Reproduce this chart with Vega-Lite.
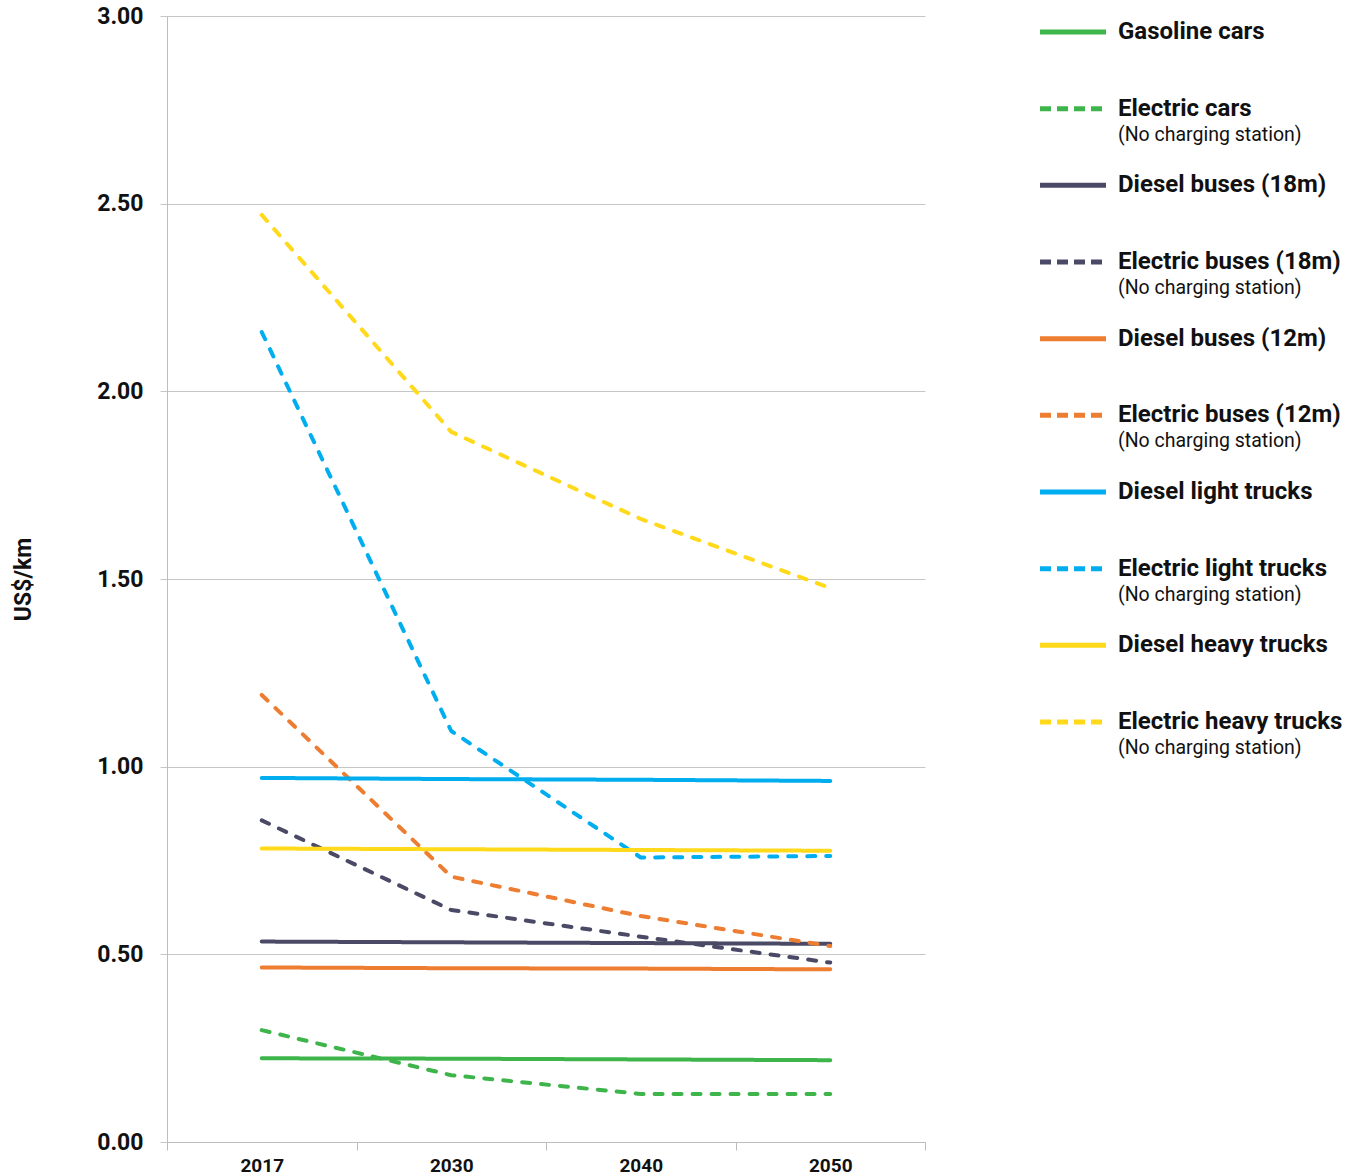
{
  "$schema": "https://vega.github.io/schema/vega-lite/v6.json",
  "padding": {"top": 5, "left": 12, "right": 0, "bottom": 0},
  "config": {
    "font": "Roboto",
    "view": {"stroke": null}
  },
  "datasets": {
    "costs": [
      {"series": "Gasoline cars", "power": "Diesel", "year": "2017", "cost": 0.223},
      {"series": "Gasoline cars", "power": "Diesel", "year": "2030", "cost": 0.222},
      {"series": "Gasoline cars", "power": "Diesel", "year": "2040", "cost": 0.220},
      {"series": "Gasoline cars", "power": "Diesel", "year": "2050", "cost": 0.218},
      {"series": "Electric cars", "power": "Electric", "year": "2017", "cost": 0.298},
      {"series": "Electric cars", "power": "Electric", "year": "2030", "cost": 0.178},
      {"series": "Electric cars", "power": "Electric", "year": "2040", "cost": 0.128},
      {"series": "Electric cars", "power": "Electric", "year": "2050", "cost": 0.128},
      {"series": "Diesel buses (18m)", "power": "Diesel", "year": "2017", "cost": 0.534},
      {"series": "Diesel buses (18m)", "power": "Diesel", "year": "2030", "cost": 0.532},
      {"series": "Diesel buses (18m)", "power": "Diesel", "year": "2040", "cost": 0.530},
      {"series": "Diesel buses (18m)", "power": "Diesel", "year": "2050", "cost": 0.528},
      {"series": "Electric buses (18m)", "power": "Electric", "year": "2017", "cost": 0.857},
      {"series": "Electric buses (18m)", "power": "Electric", "year": "2030", "cost": 0.618},
      {"series": "Electric buses (18m)", "power": "Electric", "year": "2040", "cost": 0.547},
      {"series": "Electric buses (18m)", "power": "Electric", "year": "2050", "cost": 0.478},
      {"series": "Diesel buses (12m)", "power": "Diesel", "year": "2017", "cost": 0.465},
      {"series": "Diesel buses (12m)", "power": "Diesel", "year": "2030", "cost": 0.463},
      {"series": "Diesel buses (12m)", "power": "Diesel", "year": "2040", "cost": 0.462},
      {"series": "Diesel buses (12m)", "power": "Diesel", "year": "2050", "cost": 0.460},
      {"series": "Electric buses (12m)", "power": "Electric", "year": "2017", "cost": 1.191},
      {"series": "Electric buses (12m)", "power": "Electric", "year": "2030", "cost": 0.707},
      {"series": "Electric buses (12m)", "power": "Electric", "year": "2040", "cost": 0.602},
      {"series": "Electric buses (12m)", "power": "Electric", "year": "2050", "cost": 0.522},
      {"series": "Diesel light trucks", "power": "Diesel", "year": "2017", "cost": 0.970},
      {"series": "Diesel light trucks", "power": "Diesel", "year": "2030", "cost": 0.967},
      {"series": "Diesel light trucks", "power": "Diesel", "year": "2040", "cost": 0.965},
      {"series": "Diesel light trucks", "power": "Diesel", "year": "2050", "cost": 0.962},
      {"series": "Electric light trucks", "power": "Electric", "year": "2017", "cost": 2.158},
      {"series": "Electric light trucks", "power": "Electric", "year": "2030", "cost": 1.095},
      {"series": "Electric light trucks", "power": "Electric", "year": "2040", "cost": 0.758},
      {"series": "Electric light trucks", "power": "Electric", "year": "2050", "cost": 0.762},
      {"series": "Diesel heavy trucks", "power": "Diesel", "year": "2017", "cost": 0.782},
      {"series": "Diesel heavy trucks", "power": "Diesel", "year": "2030", "cost": 0.780},
      {"series": "Diesel heavy trucks", "power": "Diesel", "year": "2040", "cost": 0.778},
      {"series": "Diesel heavy trucks", "power": "Diesel", "year": "2050", "cost": 0.776},
      {"series": "Electric heavy trucks", "power": "Electric", "year": "2017", "cost": 2.470},
      {"series": "Electric heavy trucks", "power": "Electric", "year": "2030", "cost": 1.892},
      {"series": "Electric heavy trucks", "power": "Electric", "year": "2040", "cost": 1.660},
      {"series": "Electric heavy trucks", "power": "Electric", "year": "2050", "cost": 1.476}
    ],
    "legendItems": [
      {"series": "Gasoline cars", "kind": "Diesel", "note": ""},
      {"series": "Electric cars", "kind": "Electric", "note": "(No charging station)"},
      {"series": "Diesel buses (18m)", "kind": "Diesel", "note": ""},
      {"series": "Electric buses (18m)", "kind": "Electric", "note": "(No charging station)"},
      {"series": "Diesel buses (12m)", "kind": "Diesel", "note": ""},
      {"series": "Electric buses (12m)", "kind": "Electric", "note": "(No charging station)"},
      {"series": "Diesel light trucks", "kind": "Diesel", "note": ""},
      {"series": "Electric light trucks", "kind": "Electric", "note": "(No charging station)"},
      {"series": "Diesel heavy trucks", "kind": "Diesel", "note": ""},
      {"series": "Electric heavy trucks", "kind": "Electric", "note": "(No charging station)"}
    ]
  },
  "resolve": {"scale": {"strokeDash": "independent", "color": "independent"}},
  "spacing": 111,
  "hconcat": [
    {
      "width": 758,
      "height": 1126,
      "data": {"name": "costs"},
      "mark": {"type": "line", "strokeWidth": 4, "strokeCap": "round", "strokeJoin": "round"},
      "encoding": {
        "x": {
          "field": "year", "type": "ordinal",
          "scale": {"type": "band", "paddingInner": 0, "paddingOuter": 0},
          "axis": {
            "title": null, "labelAngle": 0, "domainColor": "#bdbdbd", "tickColor": "#bdbdbd",
            "tickBand": "extent", "tickSize": 8, "labelFontSize": 19, "labelFontWeight": "bold",
            "labelColor": "#111111", "labelPadding": 6, "grid": false
          }
        },
        "y": {
          "field": "cost", "type": "quantitative",
          "scale": {"domain": [0, 3], "nice": false, "zero": true},
          "axis": {
            "title": "US$/km", "values": [0, 0.5, 1, 1.5, 2, 2.5, 3], "format": ".2f",
            "grid": true, "gridColor": "#c6c6c6", "gridWidth": 1, "tickColor": "#c6c6c6", "tickSize": 7,
            "domainColor": "#bdbdbd", "labelFontSize": 23, "labelFontWeight": "bold", "labelColor": "#111111",
            "labelPadding": 17, "titleFontSize": 23, "titleFontWeight": "bold", "titleColor": "#111111",
            "titlePadding": 61
          }
        },
        "color": {
          "field": "series", "type": "nominal", "legend": null,
          "scale": {
            "domain": ["Gasoline cars", "Electric cars", "Diesel buses (18m)", "Electric buses (18m)", "Diesel buses (12m)", "Electric buses (12m)", "Diesel light trucks", "Electric light trucks", "Diesel heavy trucks", "Electric heavy trucks"],
            "range": ["#3DB54A", "#3DB54A", "#4B4A66", "#4B4A66", "#ED7D31", "#ED7D31", "#00AEEF", "#00AEEF", "#FFD91A", "#FFD91A"]
          }
        },
        "strokeDash": {
          "field": "power", "type": "nominal", "legend": null,
          "scale": {"domain": ["Diesel", "Electric"], "range": [[1, 0], [8, 11]]}
        }
      }
    },
    {
      "width": 324,
      "height": 722,
      "data": {"name": "legendItems"},
      "encoding": {
        "y": {
          "field": "series", "type": "nominal", "axis": null,
          "scale": {
            "type": "point", "padding": 0.209,
            "domain": ["Gasoline cars", "Electric cars", "Diesel buses (18m)", "Electric buses (18m)", "Diesel buses (12m)", "Electric buses (12m)", "Diesel light trucks", "Electric light trucks", "Diesel heavy trucks", "Electric heavy trucks"]
          }
        }
      },
      "layer": [
        {
          "mark": {"type": "rule", "strokeWidth": 5, "strokeCap": "butt"},
          "encoding": {
            "x": {"datum": 0, "type": "quantitative", "scale": {"domain": [0, 324], "nice": false}, "axis": null},
            "x2": {"datum": 66},
            "color": {
              "field": "series", "type": "nominal", "legend": null,
              "scale": {
                "domain": ["Gasoline cars", "Electric cars", "Diesel buses (18m)", "Electric buses (18m)", "Diesel buses (12m)", "Electric buses (12m)", "Diesel light trucks", "Electric light trucks", "Diesel heavy trucks", "Electric heavy trucks"],
                "range": ["#3DB54A", "#3DB54A", "#4B4A66", "#4B4A66", "#ED7D31", "#ED7D31", "#00AEEF", "#00AEEF", "#FFD91A", "#FFD91A"]
              }
            },
            "strokeDash": {
              "field": "kind", "type": "nominal", "legend": null,
              "scale": {"domain": ["Diesel", "Electric"], "range": [[1, 0], [11, 6]]}
            }
          }
        },
        {
          "mark": {"type": "text", "align": "left", "baseline": "middle", "fontSize": 24, "fontWeight": "bold", "color": "#111111"},
          "encoding": {
            "x": {"datum": 78, "type": "quantitative"},
            "text": {"field": "series"}
          }
        },
        {
          "transform": [{"filter": "datum.note != ''"}],
          "mark": {"type": "text", "align": "left", "baseline": "middle", "fontSize": 19.5, "fontWeight": "normal", "dy": 26, "color": "#111111"},
          "encoding": {
            "x": {"datum": 78, "type": "quantitative"},
            "text": {"field": "note"}
          }
        }
      ]
    }
  ]
}
